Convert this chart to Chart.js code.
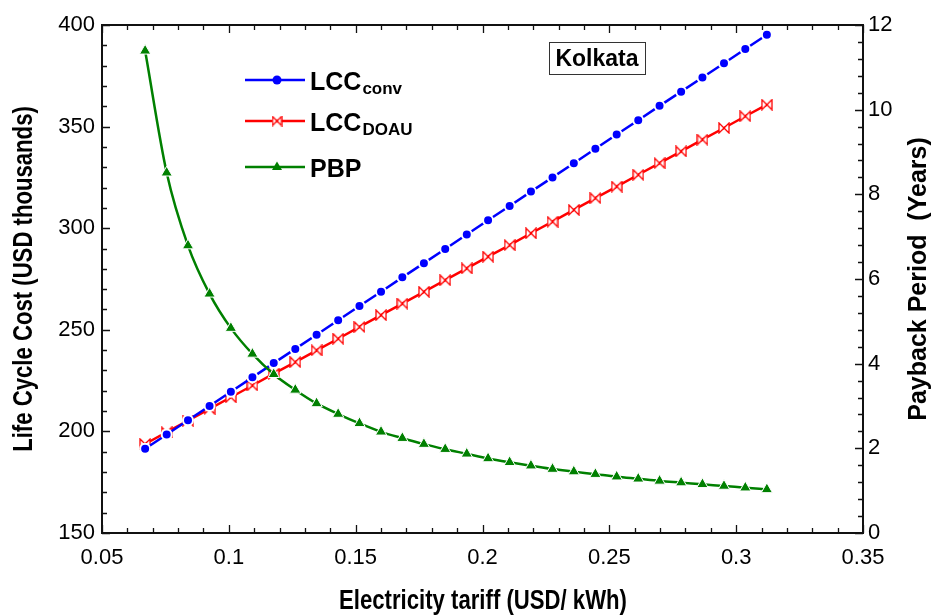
<!DOCTYPE html>
<html>
<head>
<meta charset="utf-8">
<title>Kolkata - LCC and payback period</title>
<script src="https://cdn.jsdelivr.net/npm/chart.js@4/dist/chart.umd.min.js"></script>
<style>
  body { margin: 0; background: #fff; }
</style>
</head>
<body>
<canvas id="myChart" width="931" height="615"></canvas>
<script>
// electricity tariff (USD/kWh)
const tariff = [0.067, 0.0755, 0.0839, 0.0924, 0.1008, 0.1093, 0.1177, 0.1262, 0.1346, 0.1431,
  0.1515, 0.16, 0.1684, 0.1769, 0.1853, 0.1938, 0.2022, 0.2107, 0.2191, 0.2276,
  0.236, 0.2445, 0.2529, 0.2614, 0.2698, 0.2783, 0.2867, 0.2952, 0.3036, 0.3121];
// life cycle cost, USD thousands
const lccConv = [191.5, 198.5, 205.5, 212.5, 219.5, 226.6, 233.6, 240.6, 247.6, 254.7,
  261.7, 268.7, 275.8, 282.8, 289.8, 296.9, 303.9, 310.9, 318.0, 325.0,
  332.0, 339.1, 346.1, 353.1, 360.2, 367.2, 374.2, 381.2, 388.2, 395.2];
const lccDoau = [193.8, 199.6, 205.3, 211.1, 216.8, 222.6, 228.4, 234.1, 239.9, 245.6,
  251.4, 257.2, 262.9, 268.7, 274.4, 280.2, 286.0, 291.7, 297.5, 303.2,
  309.0, 314.8, 320.5, 326.3, 332.0, 337.8, 343.6, 349.3, 355.1, 360.8];
// payback period, years
const pbp = [11.39, 8.51, 6.79, 5.65, 4.84, 4.23, 3.75, 3.38, 3.06, 2.81,
  2.59, 2.39, 2.24, 2.10, 1.98, 1.87, 1.76, 1.67, 1.59, 1.51,
  1.45, 1.39, 1.33, 1.28, 1.23, 1.19, 1.15, 1.11, 1.07, 1.03];

const city = "Kolkata";
const FONT = "'Liberation Sans', Arial, sans-serif";

function pts(ys) {
  return tariff.map((x, i) => ({ x: x, y: ys[i] }));
}

// hollow bow-tie marker
function bowtie(size) {
  const c = document.createElement("canvas");
  c.width = size + 2;
  c.height = size + 2;
  const g = c.getContext("2d");
  g.fillStyle = "#fff";
  g.strokeStyle = "#f00";
  g.lineWidth = 1.3;
  g.beginPath();
  g.moveTo(1, 1);
  g.lineTo(size + 1, size + 1);
  g.lineTo(size + 1, 1);
  g.lineTo(1, size + 1);
  g.closePath();
  g.fill();
  g.stroke();
  return c;
}
const tie = bowtie(10);
const tieSmall = bowtie(9);

// frame, inward ticks, axis titles, legend and city label
const decorations = {
  id: "decorations",
  afterDraw(chart) {
    const ctx = chart.ctx;
    const a = chart.chartArea;
    const sx = chart.scales.x, sy = chart.scales.y, sy1 = chart.scales.y1;
    ctx.save();
    ctx.strokeStyle = "#111";
    ctx.lineWidth = 1.3;
    ctx.beginPath();
    for (let i = 5; i <= 35; i++) {
      const px = Math.round(sx.getPixelForValue(i / 100)) + 0.5;
      const len = i % 5 === 0 ? 8 : 5;
      ctx.moveTo(px, a.bottom); ctx.lineTo(px, a.bottom - len);
      ctx.moveTo(px, a.top); ctx.lineTo(px, a.top + len);
    }
    for (let v = 150; v <= 400; v += 10) {
      const py = Math.round(sy.getPixelForValue(v)) + 0.5;
      ctx.moveTo(a.left, py); ctx.lineTo(a.left + (v % 50 === 0 ? 8 : 5), py);
    }
    for (let i = 0; i <= 30; i++) {
      const py = Math.round(sy1.getPixelForValue(i * 0.4)) + 0.5;
      ctx.moveTo(a.right, py); ctx.lineTo(a.right - (i % 5 === 0 ? 8 : 5), py);
    }
    ctx.stroke();
    ctx.lineWidth = 2;
    ctx.strokeRect(a.left, a.top, a.right - a.left, a.bottom - a.top);

    // axis titles
    ctx.fillStyle = "#000";
    ctx.textAlign = "center";
    ctx.textBaseline = "alphabetic";
    ctx.save();
    ctx.translate(483, 609);
    ctx.scale(0.82, 1);
    ctx.font = "bold 27px " + FONT;
    ctx.fillText("Electricity tariff (USD/ kWh)", 0, 0);
    ctx.restore();

    ctx.save();
    ctx.translate(32, (a.top + a.bottom) / 2);
    ctx.rotate(-Math.PI / 2);
    ctx.scale(0.82, 1);
    ctx.font = "bold 27px " + FONT;
    ctx.fillText("Life Cycle Cost (USD thousands)", 0, 0);
    ctx.restore();

    ctx.save();
    ctx.translate(926, (a.top + a.bottom) / 2);
    ctx.rotate(-Math.PI / 2);
    ctx.font = "bold 25px " + FONT;
    ctx.fillText("Payback Period  (Years)", 0, 0);
    ctx.restore();

    // city label
    ctx.lineWidth = 1;
    ctx.strokeStyle = "#333";
    ctx.strokeRect(549.5, 42.5, 96, 32);
    ctx.font = "bold 23px " + FONT;
    ctx.fillText(city, 597, 66);

    // legend
    const rows = [
      { y: 80, color: "#0000ff", main: "LCC", sub: "conv", base: 90 },
      { y: 121, color: "#ff0000", main: "LCC", sub: "DOAU", base: 131 },
      { y: 167, color: "#008000", main: "PBP", sub: "", base: 177 },
    ];
    ctx.textAlign = "left";
    rows.forEach((r, i) => {
      ctx.strokeStyle = r.color;
      ctx.lineWidth = 2.5;
      ctx.beginPath();
      ctx.moveTo(245, r.y);
      ctx.lineTo(305, r.y);
      ctx.stroke();
      const mx = 277;
      if (i === 0) {
        ctx.fillStyle = r.color;
        ctx.beginPath();
        ctx.arc(mx, r.y, 4.5, 0, Math.PI * 2);
        ctx.fill();
      } else if (i === 1) {
        ctx.drawImage(tieSmall, mx - tieSmall.width / 2, r.y - tieSmall.height / 2);
      } else {
        ctx.fillStyle = r.color;
        ctx.beginPath();
        ctx.moveTo(mx, r.y - 5.5);
        ctx.lineTo(mx + 5, r.y + 3);
        ctx.lineTo(mx - 5, r.y + 3);
        ctx.closePath();
        ctx.fill();
      }
      ctx.fillStyle = "#000";
      ctx.font = "bold 25px " + FONT;
      ctx.fillText(r.main, 310, r.base);
      if (r.sub) {
        const w = ctx.measureText(r.main).width;
        ctx.font = "bold 17px " + FONT;
        ctx.fillText(r.sub, 311 + w, r.base + 3.5);
      }
    });
    ctx.restore();
  },
};

Chart.defaults.font.family = FONT;
Chart.defaults.color = "#000";

const ctx = document.getElementById("myChart");
const myChart = new Chart(ctx, {
  type: "line",
  data: {
    datasets: [
      {
        label: "LCCconv",
        data: pts(lccConv),
        yAxisID: "y",
        borderColor: "#0000ff",
        borderWidth: 2.5,
        pointStyle: "circle",
        pointRadius: 5,
        pointBackgroundColor: "#0000ff",
        pointBorderColor: "#fff",
        pointBorderWidth: 2,
        order: 1,
      },
      {
        label: "LCCDOAU",
        data: pts(lccDoau),
        yAxisID: "y",
        borderColor: "#ff0000",
        borderWidth: 2.5,
        pointStyle: tie,
        pointRadius: 5,
        order: 2,
      },
      {
        label: "PBP",
        data: pts(pbp),
        yAxisID: "y1",
        borderColor: "#008000",
        borderWidth: 2.5,
        cubicInterpolationMode: "monotone",
        pointStyle: "triangle",
        pointRadius: 6.5,
        pointBackgroundColor: "#008000",
        pointBorderColor: "#fff",
        pointBorderWidth: 1,
        order: 0,
      },
    ],
  },
  options: {
    responsive: false,
    animation: false,
    layout: { padding: { top: 25, left: 0, right: 0, bottom: 0 } },
    plugins: { legend: { display: false }, tooltip: { enabled: false } },
    scales: {
      x: {
        type: "linear",
        min: 0.05,
        max: 0.35,
        grid: { display: false, drawTicks: false },
        border: { display: false },
        ticks: {
          stepSize: 0.05,
          padding: 12,
          font: { size: 22 },
          callback: (v) => String(+v.toFixed(2)),
        },
        afterFit: (s) => { s.height = 82; },
      },
      y: {
        position: "left",
        min: 150,
        max: 400,
        grid: { display: false, drawTicks: false },
        border: { display: false },
        ticks: { stepSize: 50, padding: 7, font: { size: 22 } },
        afterFit: (s) => { s.width = 102; },
      },
      y1: {
        position: "right",
        min: 0,
        max: 12,
        grid: { display: false, drawTicks: false },
        border: { display: false },
        ticks: { stepSize: 2, padding: 5, font: { size: 22 } },
        afterFit: (s) => { s.width = 68; },
      },
    },
  },
  plugins: [decorations],
});
</script>
</body>
</html>
